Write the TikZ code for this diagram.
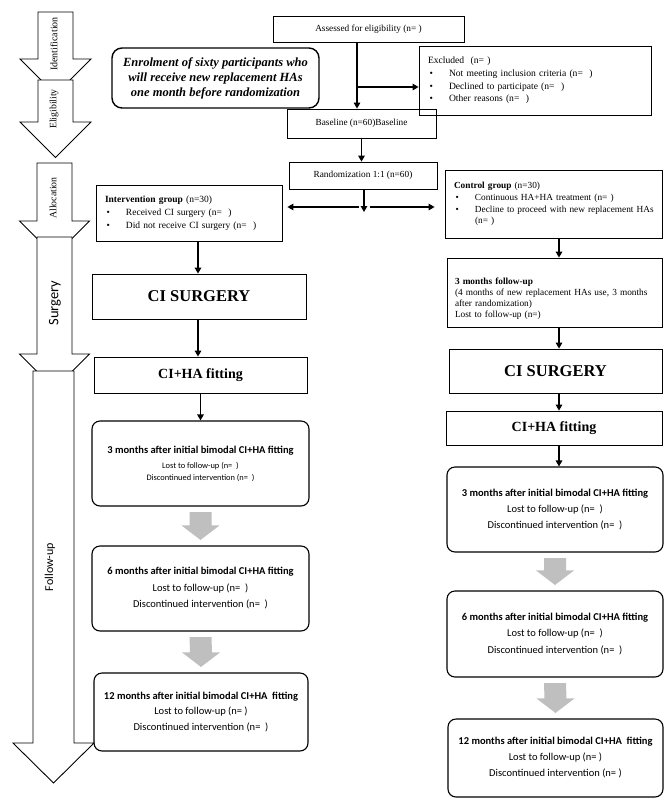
\documentclass[tikz,border=0pt]{standalone}
\usepackage{fontspec}
\setmainfont{Liberation Serif}
\newfontfamily\calib{Carlito}
\usetikzlibrary{arrows.meta,calc}

\newcommand{\fmid}{\fontsize{9.3}{11}\selectfont}
\newcommand{\blt}{\makebox[21pt][l]{\hspace{1.5pt}\textbullet}}
\newcommand{\grayarrow}[2]{%
  \fill[blockarr] ($(#1.south)+(-11,5.5)$) -- ($(#1.south)+(11,5.5)$)
    -- ($(#2.north)+(11,-20)$) -- ($(#2.north)+(19,-20)$)
    -- ($(#2.north)+(0,-5.5)$) -- ($(#2.north)+(-19,-20)$)
    -- ($(#2.north)+(-11,-20)$) -- cycle;}

\tikzset{
  box/.style={draw, line width=0.8pt, inner sep=0pt, align=center},
  lbox/.style={draw, line width=0.8pt, inner xsep=9pt, inner ysep=0pt, align=left},
  rbox/.style={draw, line width=1.1pt, rounded corners=8pt, inner sep=0pt, align=center},
  flow/.style={line width=1.4pt, -{Triangle[length=6pt,width=6.5pt]}},
  phase/.style={draw, fill=white, line width=0.9pt},
  phaselbl/.style={rotate=90, inner sep=0pt},
  blockarr/.style={gray!50},
}

\begin{document}
\begin{tikzpicture}[x=1pt,y=-1pt]
\useasboundingbox (0,0) rectangle (664,801);
% phase arrows on the left
\draw[phase] (38,12) -- (73,12) -- (73,59) -- (91,59) -- (55.5,94.5) -- (20,59) -- (38,59) -- cycle;
\draw[phase] (38,80) -- (73,80) -- (73,122) -- (91,122) -- (55.5,157.5) -- (20,122) -- (38,122) -- cycle;
\draw[phase] (37,163) -- (72,163) -- (72,221) -- (89.5,221) -- (54.5,256) -- (19.5,221) -- (37,221) -- cycle;
\draw[phase] (37,237) -- (72,237) -- (72,354) -- (89.5,354) -- (54.5,389) -- (19.5,354) -- (37,354) -- cycle;
\draw[phase] (33,371) -- (74,371) -- (74,743) -- (94,743) -- (53.5,783) -- (13,743) -- (33,743) -- cycle;
\node[phaselbl, font=\fontsize{10}{12}\selectfont] (identif) at (54,44) {Identification};
\node[phaselbl, font=\fontsize{9.8}{12}\selectfont] (elig) at (54,109) {Eligibility};
\node[phaselbl, font=\fontsize{9.8}{12}\selectfont] (alloc) at (53,198) {Allocation};
\node[phaselbl, font=\calib\fontsize{14.5}{16}\selectfont] (surg) at (55,303) {Surgery};
\node[phaselbl, font=\calib\fontsize{12}{14}\selectfont] (follow) at (50,567) {Follow-up};

% top part
\node[box, font=\fmid, minimum width=191pt, minimum height=26pt] (assessed) at (368.5,29) {Assessed for eligibility (n= )};
\node[box, line width=1.4pt, rounded corners=10pt, minimum width=207pt, minimum height=60pt,
  font=\fontsize{12.5}{15}\selectfont\bfseries\itshape] (enrol) at (215.5,78)
  {Enrolment of sixty participants who\\will receive new replacement HAs\\one month before randomization};
\node[lbox, text width=214pt, minimum height=69pt, font=\fontsize{9.6}{12.7}\selectfont] (excluded) at (535,80.5)
  {Excluded\ \ (n= )\\
   \blt Not meeting inclusion criteria (n=\ \ )\\
   \blt Declined to participate (n=\ \ )\\
   \blt Other reasons (n=\ \ )};
\node[box, font=\fmid, minimum width=149pt, minimum height=29pt] (baseline) at (361.5,123.5) {Baseline (n=60)Baseline};
\node[box, font=\fmid, minimum width=148pt, minimum height=27pt] (random) at (363,175.5) {Randomization 1:1 (n=60)};

% the two groups
\node[lbox, text width=168pt, minimum height=56pt, font=\fontsize{9.5}{13}\selectfont] (interv) at (189,213)
  {\textbf{Intervention group} (n=30)\\
   \blt Received CI surgery (n=\ \ )\\
   \blt Did not receive CI surgery (n=\ \ )};
\node[lbox, text width=199pt, minimum height=68pt, font=\fontsize{9.3}{11.7}\selectfont] (control) at (553.5,204)
  {\textbf{Control group} (n=30)\\
   \blt Continuous HA+HA treatment (n= )\\
   \mbox{\blt Decline to proceed with new replacement HAs}\\
   \hspace*{21pt}(n= )};
\node[lbox, inner xsep=8pt, text width=199pt, minimum height=69pt, font=\fmid] (fu3) at (554.5,292.5)
  {\rule{0pt}{19pt}\textbf{3 months follow-up}\\
   (4 months of new replacement HAs use, 3 months\\
   after randomization)\\
   Lost to follow-up (n=)};

% surgery and fitting
\node[box, font=\fontsize{16.5}{18}\selectfont\bfseries, minimum width=214pt, minimum height=45pt] (ciL) at (199,296.5) {CI SURGERY};
\node[box, font=\fontsize{14}{16}\selectfont\bfseries, minimum width=213pt, minimum height=36pt] (fitL) at (200.5,375) {CI+HA fitting};
\node[box, font=\fontsize{16.5}{18}\selectfont\bfseries, minimum width=213pt, minimum height=44pt] (ciR) at (555.5,371) {CI SURGERY};
\node[box, font=\fontsize{14}{16}\selectfont\bfseries, minimum width=216pt, minimum height=34pt] (fitR) at (554,428) {CI+HA fitting};

% follow-up visits, intervention group
\node[rbox, font=\calib\fontsize{8.4}{12}\selectfont, minimum width=217pt, minimum height=85pt] (m3L) at (200.5,463.5)
  {{\fontsize{10.5}{12}\selectfont\bfseries 3 months after initial bimodal CI+HA fitting}\\[3pt]
   Lost to follow-up (n=\ \ )\\Discontinued intervention (n=\ \ )};
\node[rbox, font=\calib\fontsize{10.5}{16.5}\selectfont, minimum width=217pt, minimum height=85pt] (m6L) at (200.5,588.5)
  {\textbf{6 months after initial bimodal CI+HA fitting}\\
   Lost to follow-up (n=\ \ )\\Discontinued intervention (n=\ \ )};
\node[rbox, font=\calib\fontsize{10.5}{15.5}\selectfont, minimum width=214pt, minimum height=78pt] (m12L) at (201,712)
  {\textbf{12 months after initial bimodal CI+HA~ fitting}\\
   Lost to follow-up (n=\ )\\Discontinued intervention (n=\ \ )};

% follow-up visits, control group
\node[rbox, font=\calib\fontsize{10.5}{16}\selectfont, minimum width=216pt, minimum height=85pt] (m3R) at (555,509.5)
  {\textbf{3 months after initial bimodal CI+HA fitting}\\
   Lost to follow-up (n=\ \ )\\Discontinued intervention (n=\ \ )};
\node[rbox, font=\calib\fontsize{10.5}{16.5}\selectfont, minimum width=216pt, minimum height=86pt] (m6R) at (555,634)
  {\textbf{6 months after initial bimodal CI+HA fitting}\\
   Lost to follow-up (n=\ \ )\\Discontinued intervention (n=\ \ )};
\node[rbox, font=\calib\fontsize{10.5}{16}\selectfont, minimum width=215pt, minimum height=78pt] (m12R) at (555.5,758)
  {\textbf{12 months after initial bimodal CI+HA~ fitting}\\
   Lost to follow-up (n=\ )\\Discontinued intervention (n=\ )};

% connectors
\coordinate (c1) at (357,87);
\coordinate (c3) at (364,212);
\coordinate (c4) at (359,207);
\coordinate (c5) at (370,207);
\coordinate (lc) at (198,0);
\coordinate (rc) at (559,0);
\draw[flow] (assessed.south -| c1) -- (baseline.north -| c1);
\draw[flow] (c1) -- (excluded.west |- c1);
\draw[flow] (baseline.south) -- (baseline.south |- random.north);
\draw[flow] (random.south -| c3) -- (c3);
\draw[flow, shorten >=5pt] (c4) -- (interv.east |- c4);
\draw[flow, shorten >=10pt] (c5) -- (control.west |- c5);
\draw[flow] (interv.south -| lc) -- (ciL.north -| lc);
\draw[flow] (ciL.south -| lc) -- (fitL.north -| lc);
\draw[flow] (fitL.south) -- (m3L.north);
\draw[flow] (control.south -| rc) -- (fu3.north -| rc);
\draw[flow] (fu3.south -| rc) -- (ciR.north -| rc);
\draw[flow] (ciR.south -| rc) -- (fitR.north -| rc);
\draw[flow] (fitR.south -| rc) -- (m3R.north -| rc);
\grayarrow{m3L}{m6L}
\grayarrow{m6L}{m12L}
\grayarrow{m3R}{m6R}
\grayarrow{m6R}{m12R}
\end{tikzpicture}
\end{document}
